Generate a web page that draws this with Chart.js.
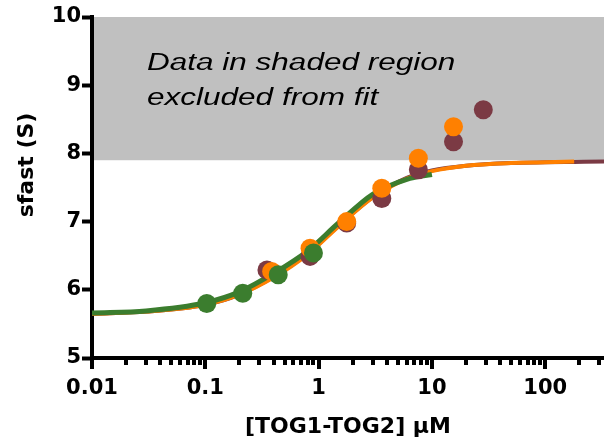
<!DOCTYPE html>
<html>
<head>
<meta charset="utf-8">
<script src="https://cdn.jsdelivr.net/npm/chart.js@4.4.1/dist/chart.umd.min.js"></script>
<style>
html,body{margin:0;padding:0;background:#fff;}
#wrap{width:604px;height:448px;}
</style>
</head>
<body>
<div id="wrap"><canvas id="mycanvas" width="604" height="448"></canvas></div>
<script>
// measured points
var maroonX = [0.35, 0.84, 1.77, 3.61, 7.59, 15.5, 28.4];
var maroonY = [6.29, 6.49, 6.98, 7.34, 7.76, 8.17, 8.64];
var orangeX = [0.385, 0.84, 1.77, 3.61, 7.59, 15.5];
var orangeY = [6.27, 6.61, 7.00, 7.49, 7.93, 8.39];
var greenX = [0.103, 0.214, 0.44, 0.90];
var greenY = [5.80, 5.95, 6.22, 6.54];

// fit curves
var fitX = [0.01, 0.03, 0.1, 0.2, 0.4, 0.8, 1.5, 3, 6, 10, 20, 50, 100, 180, 330];
var maroonFitY = [5.65, 5.68, 5.78, 5.93, 6.19, 6.53, 6.94, 7.36, 7.64, 7.75, 7.82, 7.86, 7.87, 7.875, 7.88];
var orangeFitY = [5.65, 5.68, 5.78, 5.93, 6.18, 6.52, 6.93, 7.35, 7.63, 7.74, 7.82, 7.86, 7.87, 7.88];
var greenFitX = [0.01, 0.03, 0.1, 0.2, 0.4, 0.8, 1.5, 3, 6, 10];
var greenFitY = [5.66, 5.69, 5.81, 5.97, 6.24, 6.57, 6.98, 7.40, 7.62, 7.69];

var xMajor = [0.01, 0.1, 1, 10, 100];
var xMinorMult = [2, 3, 4, 5, 6, 7, 8, 9];
var yTicks = [5, 6, 7, 8, 9, 10];
var shadeFrom = 7.9, shadeTo = 10;
var noteLines = ['Data in shaded region', 'excluded from fit'];
var xTitle = '[TOG1-TOG2] \u03bcM';
var yTitle = 'sfast (S)';

var xMin = 0.01, xMax = 330;

function pts(xs, ys) {
	var out = [];
	for (var i = 0; i < ys.length; i++) out.push({x: xs[i], y: ys[i]});
	return out;
}

var MAROON = '#7b3a44', ORANGE = '#ff8000', GREEN = '#3b7d2e';

var xTickVals = [];
for (var d = 0; d < xMajor.length; d++) {
	xTickVals.push(xMajor[d]);
	for (var m = 0; m < xMinorMult.length; m++) {
		var v = xMajor[d] * xMinorMult[m];
		if (v <= xMax) xTickVals.push(v);
	}
}

var decor = {
	id: 'decor',
	beforeDatasetsDraw: function(chart) {
		var ctx = chart.ctx, a = chart.chartArea, y = chart.scales.y;
		var top = y.getPixelForValue(shadeTo), bot = y.getPixelForValue(shadeFrom);
		ctx.save();
		ctx.fillStyle = '#c0c0c0';
		ctx.fillRect(a.left + 2, top, a.right - a.left - 2, bot - top);
		ctx.fillStyle = '#000';
		ctx.font = 'italic 23px "Liberation Sans", Arial, sans-serif';
		ctx.textBaseline = 'alphabetic';
		for (var i = 0; i < noteLines.length; i++) {
			ctx.save();
			ctx.translate(147, 70 + i * 35);
			ctx.scale(1.37, 1);
			ctx.fillText(noteLines[i], 0, 0);
			ctx.restore();
		}
		ctx.restore();
	},
	afterDraw: function(chart) {
		var ctx = chart.ctx, x = chart.scales.x, a = chart.chartArea;
		ctx.save();
		ctx.strokeStyle = '#000';
		ctx.lineWidth = 4;
		for (var i = 0; i < xTickVals.length; i++) {
			var v = xTickVals[i];
			var px = Math.round(x.getPixelForValue(v));
			var major = xMajor.indexOf(v) >= 0;
			ctx.beginPath();
			ctx.moveTo(px, a.bottom);
			ctx.lineTo(px, a.bottom + (major ? 11 : 7));
			ctx.stroke();
		}
		ctx.fillStyle = '#000';
		ctx.font = 'bold 22px "DejaVu Sans", sans-serif';
		ctx.textAlign = 'center';
		ctx.textBaseline = 'middle';
		ctx.translate(27, 165);
		ctx.rotate(-Math.PI / 2);
		ctx.fillText(yTitle, 0, 0);
		ctx.restore();
	}
};

var ctx = document.getElementById('mycanvas');

var chart = new Chart(ctx, {
	type: 'scatter',
	data: {
		datasets: [
			{label: 'green pts', data: pts(greenX, greenY), order: 0, pointRadius: 9.5, pointBackgroundColor: GREEN, pointBorderWidth: 0, showLine: false},
			{label: 'orange pts', data: pts(orangeX, orangeY), order: 1, pointRadius: 9.5, pointBackgroundColor: ORANGE, pointBorderWidth: 0, showLine: false},
			{label: 'maroon pts', data: pts(maroonX, maroonY), order: 2, pointRadius: 9.5, pointBackgroundColor: MAROON, pointBorderWidth: 0, showLine: false},
			{label: 'green fit', data: pts(greenFitX, greenFitY), order: 3, showLine: true, pointRadius: 0, borderColor: GREEN, borderWidth: 5, cubicInterpolationMode: 'monotone'},
			{label: 'orange fit', data: pts(fitX, orangeFitY), order: 4, showLine: true, pointRadius: 0, borderColor: ORANGE, borderWidth: 4, cubicInterpolationMode: 'monotone'},
			{label: 'maroon fit', data: pts(fitX, maroonFitY), order: 5, showLine: true, pointRadius: 0, borderColor: MAROON, borderWidth: 4, cubicInterpolationMode: 'monotone'}
		]
	},
	options: {
		responsive: false,
		animation: false,
		events: [],
		layout: {autoPadding: false, padding: {top: 17, right: 0, bottom: 0, left: 0}},
		plugins: {legend: {display: false}, tooltip: {enabled: false}},
		scales: {
			x: {
				type: 'logarithmic',
				min: xMin,
				max: xMax,
				afterBuildTicks: function(axis) {
					axis.ticks = xTickVals.map(function(v) { return {value: v}; });
				},
				afterFit: function(axis) {
					axis.height = 90;
					axis.paddingRight = 0;
					axis.paddingLeft = 0;
				},
				grid: {drawOnChartArea: false, drawTicks: false},
				border: {display: true, color: '#000', width: 4},
				ticks: {
					autoSkip: false,
					maxRotation: 0,
					padding: 18,
					color: '#000',
					font: {family: '"DejaVu Sans", sans-serif', size: 21, weight: 'bold'},
					callback: function(v) { return xMajor.indexOf(v) >= 0 ? String(v) : ''; }
				},
				title: {
					display: true,
					text: xTitle,
					color: '#000',
					font: {family: '"DejaVu Sans", sans-serif', size: 22, weight: 'bold'},
					padding: {top: 0, bottom: 8}
				}
			},
			y: {
				min: 5,
				max: 10,
				afterBuildTicks: function(axis) {
					axis.ticks = yTicks.map(function(v) { return {value: v}; });
				},
				afterFit: function(axis) { axis.width = 92; },
				grid: {drawOnChartArea: false, drawTicks: true, tickLength: 10, tickWidth: 4, tickColor: '#000'},
				border: {display: true, color: '#000', width: 4},
				ticks: {
					padding: 1,
					color: '#000',
					font: {family: '"DejaVu Sans", sans-serif', size: 21, weight: 'bold'}
				}
			}
		}
	},
	plugins: [decor]
});
</script>
</body>
</html>
